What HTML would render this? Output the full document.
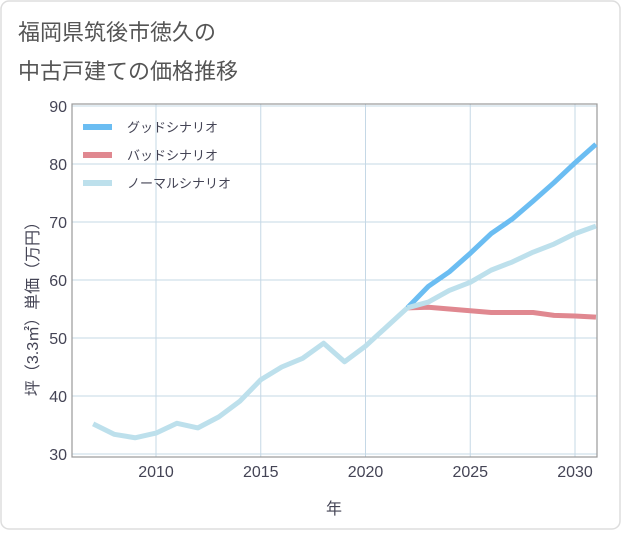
<!DOCTYPE html>
<html><head><meta charset="utf-8"><style>
body{margin:0;background:#fff;font-family:"Liberation Sans","Noto Sans CJK JP",sans-serif;}
</style></head><body>
<svg width="621" height="530" xmlns="http://www.w3.org/2000/svg" font-family="Liberation Sans, Noto Sans CJK JP, sans-serif">
<rect x="1" y="1" width="619" height="528" rx="8" fill="#fff" stroke="#ddd" stroke-width="1.5"/>
<text x="18" y="40" font-size="22" fill="#555">福岡県筑後市徳久の</text>
<text x="18" y="79" font-size="22" fill="#555">中古戸建ての価格推移</text>
<g id="grid"></g>
<rect x="72" y="104" width="525" height="353" fill="none" stroke="#999" stroke-width="1.2"/>
<g id="ticks"></g>
<g id="series"></g>
<text transform="translate(38,305) rotate(-90)" text-anchor="middle" font-size="16" fill="#445">坪（3.3㎡）単価（万円）</text>
<text x="334" y="514" text-anchor="middle" font-size="16" fill="#445">年</text>
<g>
<line x1="83" y1="127" x2="112" y2="127" stroke="#6bbdf2" stroke-width="6"/>
<text x="127" y="132" font-size="13" fill="#445">グッドシナリオ</text>
<line x1="83" y1="155" x2="112" y2="155" stroke="#e08890" stroke-width="6"/>
<text x="127" y="160" font-size="13" fill="#445">バッドシナリオ</text>
<line x1="83" y1="183" x2="112" y2="183" stroke="#bde0ec" stroke-width="6"/>
<text x="127" y="188" font-size="13" fill="#445">ノーマルシナリオ</text>
</g>
</svg>
<script>
const histYears=[2007,2008,2009,2010,2011,2012,2013,2014,2015,2016,2017,2018,2019,2020,2021,2022];
const histValues=[35.2,33.4,32.8,33.6,35.3,34.5,36.4,39.1,42.8,45,46.5,49.1,45.9,48.6,51.9,55.2];
const futYears=[2022,2023,2024,2025,2026,2027,2028,2029,2030,2031];
const goodValues=[55.2,58.9,61.4,64.6,68,70.5,73.6,76.8,80.2,83.4];
const badValues=[55.2,55.3,55,54.7,54.4,54.4,54.4,53.9,53.8,53.6];
const normalValues=[55.2,56.2,58.2,59.6,61.7,63.1,64.8,66.2,68,69.3];
const xTicks=[2010,2015,2020,2025,2030];
const yTicks=[30,40,50,60,70,80,90];
const NS="http://www.w3.org/2000/svg";
function xs(yr){return 156+(yr-2010)*20.95;}
function ys(v){return 106+(90-v)*5.8;}
const grid=document.getElementById('grid'),ticks=document.getElementById('ticks'),ser=document.getElementById('series');
function mk(tag,attrs,parent){const e=document.createElementNS(NS,tag);for(const k in attrs)e.setAttribute(k,attrs[k]);parent.appendChild(e);return e;}
xTicks.forEach(t=>{
const l=mk('line',{x1:xs(t),x2:xs(t),y1:104,y2:457,stroke:'#c5d8e6','stroke-width':1},grid);


const tx=mk('text',{x:xs(t),y:477,'text-anchor':'middle','font-size':16,fill:'#445'},ticks);
tx.textContent=t;


});
yTicks.forEach(t=>{
const l=mk('line',{x1:72,x2:597,y1:ys(t),y2:ys(t),stroke:'#c5d8e6','stroke-width':1},grid);


const tx=mk('text',{x:67,y:ys(t)+6,'text-anchor':'end','font-size':16,fill:'#445'},ticks);
tx.textContent=t;


});
function line(xsArr,vals,color,name){
const p=mk('polyline',{points:xsArr.map((y,i)=>xs(y)+','+ys(vals[i])).join(' '),fill:'none',stroke:color,'stroke-width':5,'stroke-linejoin':'round'},ser);


}
line(futYears,badValues,'#e08890','bad-scenario-line');
line(futYears,goodValues,'#6bbdf2','good-scenario-line');
line(futYears,normalValues,'#bde0ec','normal-scenario-line');
line(histYears,histValues,'#bde0ec','historical-line');
</script>
</body></html>
